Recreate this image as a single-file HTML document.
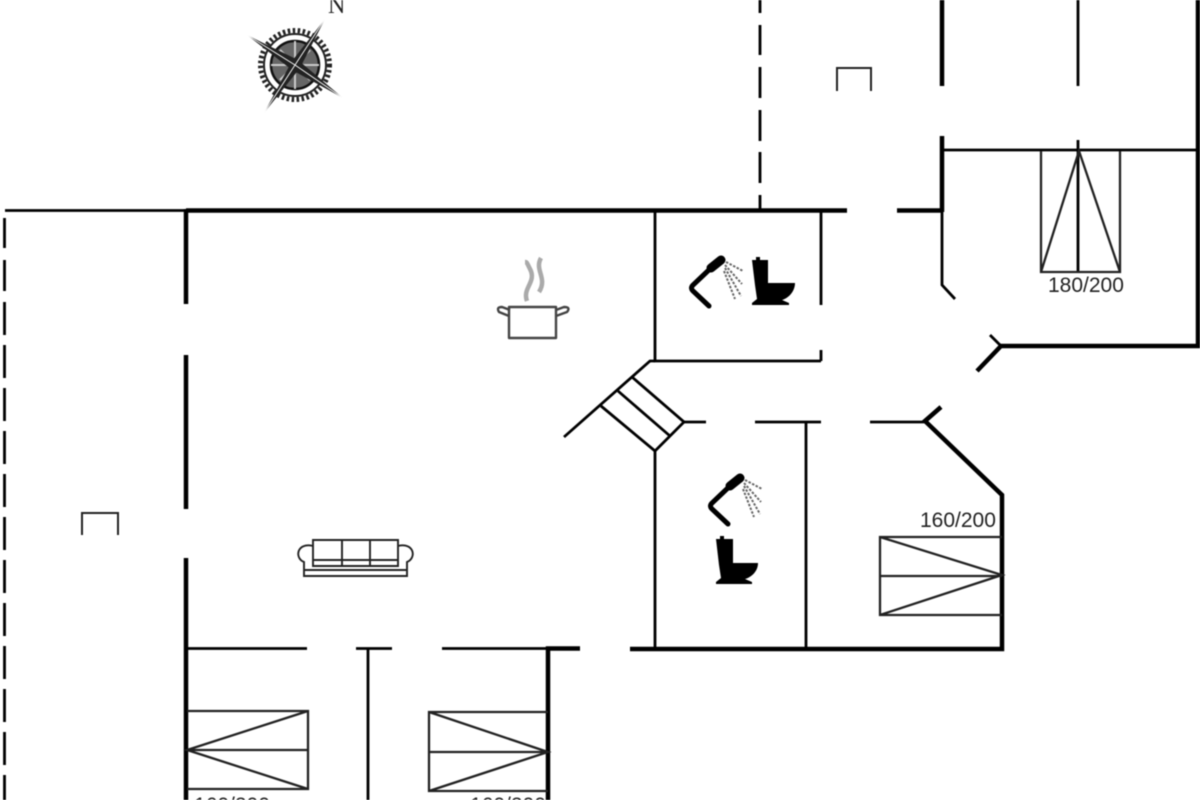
<!DOCTYPE html>
<html><head><meta charset="utf-8"><style>
html,body{margin:0;padding:0;background:#fff;width:1200px;height:800px;overflow:hidden}
svg{display:block;filter:blur(.55px)}
text{font-family:"Liberation Sans",sans-serif;fill:#222}
</style></head><body>
<svg width="1200" height="800" viewBox="0 0 1200 800" fill="none" stroke="#000" stroke-linecap="butt">
<!-- thin walls -->
<g stroke-width="2.800">
<path d="M5 210.500H186"/>
<path d="M655 211V361H821M821 211V305M821 350V361"/>
<path d="M655 361L650 361L564 437"/>
<path d="M601 406L655 451L684 422L632 377M618 391L670 436"/>
<path d="M684 422H706M755 422H821M870 422H926"/>
<path d="M806 422V648M655 451V648"/>
<path d="M942 150H1197M942 210V262L942 285L955 299"/>
<path d="M1078 0V86M1078 140V272"/>
<path d="M1001 346L990 335"/>
<path d="M186 648.500H307M356 648.500H392M442 648.500H548M368 649V800"/>
</g>
<!-- dashed -->
<path d="M760 0V13M760 25V55M760 67V98M760 110V141M760 152V183M760 195V210" stroke-width="2.800"/>
<path d="M4.500 218V248M4.500 260V291M4.500 302V335M4.500 345V378M4.500 388V421M4.500 431V464M4.500 474V507M4.500 517V550M4.500 560V593M4.500 603V636M4.500 646V679M4.500 689V722M4.500 732V765M4.500 775V800" stroke-width="2.800"/>
<!-- thick walls -->
<g stroke-width="4.500">
<path d="M186 210.500H847M897 210.500H942"/>
<path d="M186 209V304M186 355V509M186 558V800"/>
<path d="M942 0V86M942 136V212"/>
<path d="M1198 0V346H1001L977 371"/>
<path d="M941 407L925 421L1002 495V649H630M580 648.500H548V800"/>
</g>
<!-- beds -->
<g stroke="#222" stroke-width="2.300">
<path d="M1041 151V272H1120V151M1041 272L1079 151L1120 272"/>
<path d="M1002 537H880V615H1002M880 576H1002M880 537L1002 575L880 615"/>
<path d="M187 711H308V789H187M187 750H308M308 711L187 750L308 789"/>
<path d="M548 712H429V791H548M429 752H548M429 712L548 752L429 791"/>
</g>
<!-- parking/marks -->
<path d="M837 91V68H871V91M82 535V513H118V535" stroke="#222" stroke-width="2"/>
<text x="1048" y="292" font-size="21" stroke="none">180/200</text>
<text x="920" y="527" font-size="21" stroke="none">160/200</text>
<text x="194" y="812" font-size="21" stroke="none">160/200</text>
<text x="470" y="812" font-size="21" stroke="none">160/200</text>
<!-- compass -->
<text x="328" y="13" font-size="24" stroke="none" style="font-family:'Liberation Serif',serif">N</text>
<g transform="translate(295 65)">
<circle r="34.500" stroke="#222" stroke-width="5" stroke-dasharray="2.500 2.500"/>
<circle r="31" stroke="#222" stroke-width="2"/>
<circle r="27" stroke="#fff" stroke-width="4"/>
<circle r="24" fill="#666" stroke="#111" stroke-width="2.500"/>
<path d="M0-24V24M-24 0H24M-15-15L15 15M15-15L-15 15" stroke="#ccc" stroke-width="2"/>
<path d="M30-46L5 3L-31 48L-3-4Z" fill="#222" stroke="none"/>
<path d="M-48-30L3-5L48 33L-3 5Z" fill="#222" stroke="none"/>
<path d="M30-46L0 0M-31 48L0 0M-48-30L0 0M48 33L0 0" stroke="#fff" stroke-width=".900"/>
</g>
<!-- pot -->
<g stroke="#444" stroke-width="2.400" stroke-linejoin="round">
<path d="M509 307H556V338H509Z"/>
<path d="M509 316L499 312Q496 307 502 307L510 310M556 316L567 312Q571 307 564 307L556 310"/>
<path d="M527 301C522 288 537 282 530 269C527 263 527 262 525 262M539 292C548 278 534 270 541 258" stroke="#aaa" stroke-width="4.500"/>
</g>
<!-- sofa -->
<g stroke="#222" stroke-width="1.900">
<path d="M313 540H398V566H313ZM342 540V566M370 540V566M313 560H398"/>
<path d="M313 546C297 542 294 558 304 562V576H407V562C417 558 414 542 398 546M304 570H407"/>
</g>
<!-- shower/wc top -->
<g id="s">
<path d="M709 306L693 291Q690 288 693 285L712 267" stroke-width="5" stroke-linecap="round"/>
<path d="M711 268L721 260" stroke-width="9" stroke-linecap="round"/>
<path d="M726 262L743 271M725 265L742 284M725 268L741 296M724 271L735 299" stroke="#666" stroke-width="2" stroke-dasharray="2.500 1.500"/>
</g>
<path d="M752 260H756V257H760V260H768V283H795C795 291 789 298 782 300L789 303V305H752V303L757 299L755 285Z" fill="#000" stroke="none"/>
<!-- shower/wc lower -->
<use href="#s" x="19" y="218"/>
<path d="M716 539H720V536H724V539H733V563H758C758 571 752 577 745 579L752 582V584H716V582L721 578L719 565Z" fill="#000" stroke="none"/>
</svg>
</body></html>
